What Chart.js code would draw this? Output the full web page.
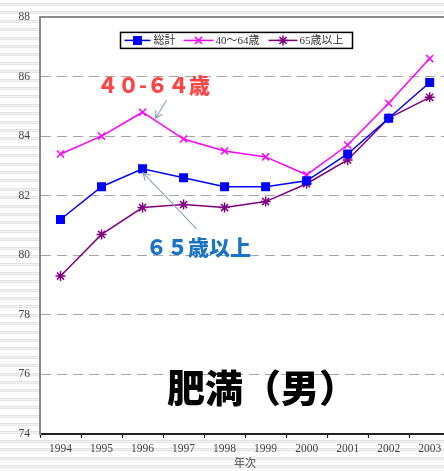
<!DOCTYPE html>
<html>
<head>
<meta charset="utf-8">
<script src="https://cdn.jsdelivr.net/npm/chart.js@4.4.1/dist/chart.umd.min.js"></script>
<style>
  html, body {
    margin: 0; padding: 0; overflow: hidden;
    width: 444px; height: 471px;
    background: repeating-linear-gradient(to bottom,
      #ffffff 0px, #ffffff 3px,
      #e3e3e3 3px, #e3e3e3 4px,
      #f4f4f4 4px, #f4f4f4 5px,
      #e6e6e6 5px, #e6e6e6 6px,
      #ffffff 6px, #ffffff 8.4px);
  }
  #chart { position: absolute; left: 0; top: 0; width: 457px; height: 471px; }
</style>
</head>
<body>
<canvas id="chart" width="457" height="471"></canvas>
<script>
// 肥満（男）: yearly rates by age group
const years = ['1994', '1995', '1996', '1997', '1998', '1999', '2000', '2001', '2002', '2003'];
const totalRate = [81.2, 82.3, 82.9, 82.6, 82.3, 82.3, 82.5, 83.4, 84.6, 85.8];
const age40to64 = [83.4, 84.0, 84.8, 83.9, 83.5, 83.3, 82.7, 83.7, 85.1, 86.6];
const age65plus = [79.3, 80.7, 81.6, 81.7, 81.6, 81.8, 82.4, 83.2, 84.6, 85.3];
const yTickValues = [74, 76, 78, 80, 82, 84, 86, 88];
const seriesNames = ['総計', '40～64歳', '65歳以上'];
const axisTitle = '年次';
const labelMiddle = '４０-６４歳';
const labelSenior = '６５歳以上';
const chartTitle = '肥満（男）';

const SERIF = '"Liberation Serif", "DejaVu Serif", "Noto Sans CJK JP", serif';
const GOTHIC = '"Noto Sans CJK JP", sans-serif';

const seriesStyles = [
  { color: '#0000ff', pointStyle: 'rect', radius: 5.3 },
  { color: '#ff00ff', pointStyle: 'crossRot', radius: 5 },
  { color: '#800080', pointStyle: 'star', radius: 5 }
];
const seriesData = [totalRate, age40to64, age65plus];

const datasets = seriesData.map((values, i) => ({
  label: seriesNames[i],
  data: values,
  borderColor: seriesStyles[i].color,
  backgroundColor: seriesStyles[i].color,
  borderWidth: 1.5,
  pointStyle: seriesStyles[i].pointStyle,
  pointRadius: seriesStyles[i].radius,
  pointBorderWidth: 1.5,
  pointBackgroundColor: seriesStyles[i].color,
  pointBorderColor: seriesStyles[i].color,
  tension: 0,
  fill: false
}));

// white plotting area over the striped page
const plotBackground = {
  id: 'plotBackground',
  beforeDraw(chart) {
    const { ctx, chartArea: a } = chart;
    ctx.save();
    ctx.fillStyle = '#ffffff';
    ctx.fillRect(a.left, a.top, a.right - a.left, a.bottom - a.top);
    ctx.restore();
  },
  afterDraw(chart) {
    const { ctx, chartArea: a } = chart;
    ctx.save();
    ctx.strokeStyle = '#8a8a8a';
    ctx.lineWidth = 2;
    ctx.beginPath();
    ctx.moveTo(a.left - 1, a.top);
    ctx.lineTo(a.right, a.top);
    ctx.moveTo(a.right, a.top);
    ctx.lineTo(a.right, a.bottom);
    ctx.stroke();
    ctx.restore();
  }
};

// boxed legend inside the plot
const boxedLegend = {
  id: 'boxedLegend',
  afterDatasetsDraw(chart) {
    const { ctx, chartArea: a } = chart;
    const left = a.left + 80.5, top = a.top + 15.5, w = 232, h = 16;
    const midY = top + h / 2;
    ctx.save();
    ctx.fillStyle = '#ffffff';
    ctx.fillRect(left, top, w, h);
    ctx.strokeStyle = '#000000';
    ctx.lineWidth = 1.5;
    ctx.strokeRect(left, top, w, h);
    const items = [
      { x0: 4, x1: 30, text: 33 },
      { x0: 63, x1: 93, text: 95 },
      { x0: 148, x1: 177, text: 179 }
    ];
    ctx.font = '11px ' + SERIF;
    ctx.textBaseline = 'middle';
    ctx.textAlign = 'left';
    items.forEach((it, i) => {
      const st = seriesStyles[i];
      ctx.strokeStyle = st.color;
      ctx.fillStyle = st.color;
      ctx.lineWidth = 1.5;
      ctx.beginPath();
      ctx.moveTo(left + it.x0, midY);
      ctx.lineTo(left + it.x1, midY);
      ctx.stroke();
      Chart.helpers.drawPoint(ctx, {
        pointStyle: st.pointStyle, radius: st.radius, rotation: 0, borderWidth: 1.5
      }, left + (it.x0 + it.x1) / 2, midY);
      ctx.fillStyle = '#333333';
      ctx.fillText(seriesNames[i], left + it.text, midY + 0.5);
    });
    ctx.restore();
  }
};

function arrow(ctx, x0, y0, x1, y1) {
  const ang = Math.atan2(y1 - y0, x1 - x0);
  const len = 8, spread = 0.5;
  ctx.beginPath();
  ctx.moveTo(x0, y0);
  ctx.lineTo(x1, y1);
  ctx.moveTo(x1 - len * Math.cos(ang - spread), y1 - len * Math.sin(ang - spread));
  ctx.lineTo(x1, y1);
  ctx.lineTo(x1 - len * Math.cos(ang + spread), y1 - len * Math.sin(ang + spread));
  ctx.stroke();
}

// call-out labels and chart title drawn over the plot
const callouts = {
  id: 'callouts',
  afterDatasetsDraw(chart) {
    const { ctx, scales: { x, y }, chartArea: a } = chart;
    ctx.save();
    // arrows point at the 1996 values
    const mx = x.getPixelForValue(2), my = y.getPixelForValue(age40to64[2]);
    const tx = x.getPixelForValue(2), ty = y.getPixelForValue(totalRate[2]);
    ctx.strokeStyle = '#93a6b8';
    ctx.lineWidth = 1.2;
    arrow(ctx, mx + 24, my - 12, mx + 13, my + 6);
    arrow(ctx, tx + 54, ty + 60, tx + 0.5, ty + 4);

    ctx.textAlign = 'left';
    ctx.textBaseline = 'middle';
    ctx.fillStyle = '#fd4545';
    ctx.font = '900 21px ' + GOTHIC;
    ctx.fillText(labelMiddle, a.left + 57, a.top + 68);

    ctx.fillStyle = '#1a74c6';
    ctx.font = '900 21px ' + GOTHIC;
    ctx.fillText(labelSenior, a.left + 106, a.top + 230);

    ctx.fillStyle = '#000000';
    ctx.font = '900 38px ' + GOTHIC;
    ctx.fillText(chartTitle, a.left + 127, a.top + 371);
    ctx.restore();
  }
};

new Chart(document.getElementById('chart'), {
  type: 'line',
  data: { labels: years, datasets },
  plugins: [plotBackground, boxedLegend, callouts],
  options: {
    responsive: false,
    maintainAspectRatio: false,
    devicePixelRatio: 1,
    animation: false,
    events: [],
    layout: { padding: { top: 15, left: 0, right: 0, bottom: 0 } },
    plugins: { legend: { display: false }, tooltip: { enabled: false } },
    scales: {
      x: {
        type: 'category',
        offset: true,
        grid: {
          offset: true,
          drawOnChartArea: false,
          drawTicks: true,
          tickLength: 4,
          tickColor: '#222222',
          tickWidth: 1.2
        },
        border: { display: true, color: '#222222', width: 2 },
        ticks: {
          color: '#444444',
          font: { family: SERIF, size: 11.5 },
          padding: 4,
          maxRotation: 0,
          autoSkip: false
        },
        title: {
          display: true,
          text: axisTitle,
          color: '#444444',
          font: { family: SERIF, size: 11 },
          padding: { top: 0, bottom: 0 }
        },
        afterFit(scale) { scale.height = 37; }
      },
      y: {
        min: 74,
        max: 88,
        afterBuildTicks(scale) { scale.ticks = yTickValues.map(v => ({ value: v })); },
        grid: {
          drawTicks: false,
          color: ctx => (ctx.tick && (ctx.tick.value === 74 || ctx.tick.value === 88)) ? 'rgba(0,0,0,0)' : '#a6a6a6',
          lineWidth: 1
        },
        border: { display: true, color: '#8a8a8a', width: 2, dash: [10, 6] },
        ticks: {
          color: '#444444',
          font: { family: SERIF, size: 11.5 },
          padding: 10
        },
        afterFit(scale) { scale.width = 40; }
      }
    }
  }
});
</script>
</body>
</html>
